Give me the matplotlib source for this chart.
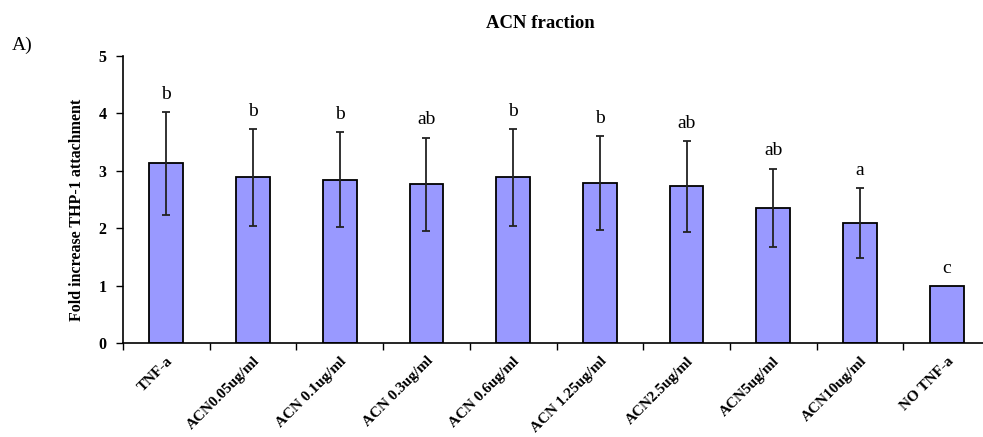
import matplotlib
matplotlib.use("Agg")
import matplotlib.pyplot as plt
import numpy as np

categories = ["TNF-a", "ACN0.05ug/ml", "ACN 0.1ug/ml", "ACN 0.3ug/ml", "ACN 0.6ug/ml",
              "ACN 1.25ug/ml", "ACN2.5ug/ml", "ACN5ug/ml", "ACN10ug/ml", "NO TNF-a"]
means = [3.13, 2.89, 2.85, 2.77, 2.89, 2.79, 2.73, 2.36, 2.09, 1.00]
sds = [0.90, 0.84, 0.83, 0.81, 0.84, 0.81, 0.79, 0.68, 0.61, 0.0]
letters = ["b", "b", "b", "ab", "b", "b", "ab", "ab", "a", "c"]
yticks = [0, 1, 2, 3, 4, 5]

plt.rcParams['font.family'] = ['Liberation Serif', 'DejaVu Serif']

fig = plt.figure(figsize=(9.83, 4.37), dpi=100)
ax = fig.add_axes([123/983, 1 - 343.3/437, (990-123)/983, (343.3-56)/437])

x = np.arange(len(categories))
ax.bar(x, means, width=0.39, color="#9999FF", edgecolor="black", linewidth=1.3, zorder=2)
err_idx = [i for i, s in enumerate(sds) if s > 0]
ax.errorbar(x[err_idx], [means[i] for i in err_idx], yerr=[sds[i] for i in err_idx],
            fmt="none", ecolor="#222222", elinewidth=1.3, capsize=3.2, capthick=1.3, zorder=3)

for i, (m, s, l) in enumerate(zip(means, sds, letters)):
    ax.annotate(l, xy=(x[i], m + s), xytext=(0, 9.5), textcoords="offset points",
                ha="center", va="baseline", fontsize=14, color="black")

ax.set_xlim(-0.5, len(categories) - 0.5)
ax.set_ylim(0, 5)
ax.set_yticks(yticks)
ax.set_yticklabels([str(t) for t in yticks], fontsize=11.5, fontweight="bold")
ax.tick_params(axis="y", direction="out", length=5, width=1, pad=7)

ax.set_xticks(np.arange(len(categories) + 1) - 0.5)
ax.set_xticklabels([])
ax.tick_params(axis="x", direction="out", length=5, width=1)
ax.set_xticks(x, minor=True)
ax.set_xticklabels(categories, minor=True, rotation=45, ha="right",
                   rotation_mode="anchor", fontsize=11, fontweight="bold")
ax.tick_params(axis="x", which="minor", length=0, pad=8)

for side in ["top", "right"]:
    ax.spines[side].set_visible(False)
for side in ["left", "bottom"]:
    ax.spines[side].set_linewidth(1.2)

ax.set_ylabel("Fold increase THP-1 attachment", fontsize=11.5, fontweight="bold")
ax.yaxis.set_label_coords(-38/867, 0.465)

fig.text(540/983, 1 - 23/437, "ACN fraction", ha="center", va="center",
         fontsize=13.5, fontweight="bold")
fig.text(12/983, 1 - 45/437, "A)", ha="left", va="center", fontsize=14)

fig.savefig("out.png", dpi=100)
